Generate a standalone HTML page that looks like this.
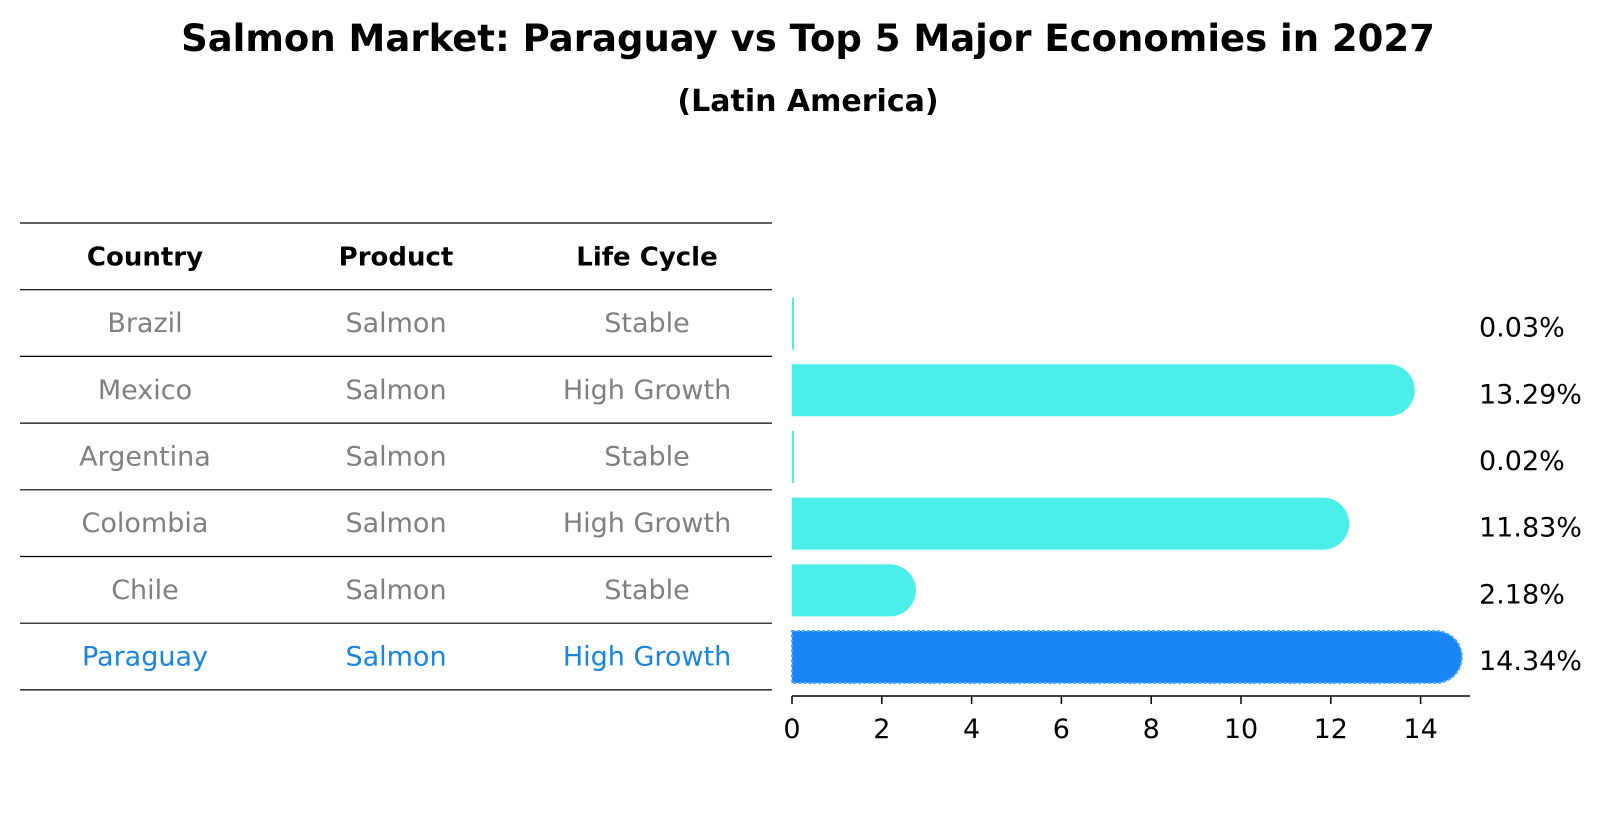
<!DOCTYPE html>
<html><head><meta charset="utf-8"><style>
body{margin:0;background:#fff;}
svg text{font-family:"DejaVu Sans","Liberation Sans",sans-serif;}
</style></head><body>
<svg width="1604" height="823" xmlns="http://www.w3.org/2000/svg">
<text x="808" y="51" text-anchor="middle" font-size="37" font-weight="bold">Salmon Market: Paraguay vs Top 5 Major Economies in 2027</text>
<text x="808" y="111" text-anchor="middle" font-size="30" font-weight="bold">(Latin America)</text>
<g id="table"></g>
<g id="bars"></g>
</svg>
<script>
const countries = ["Brazil","Mexico","Argentina","Colombia","Chile","Paraguay"];
const products = ["Salmon","Salmon","Salmon","Salmon","Salmon","Salmon"];
const lifeCycles = ["Stable","High Growth","Stable","High Growth","Stable","High Growth"];
const values = [0.03,13.29,0.02,11.83,2.18,14.34];
const valueLabels = ["0.03%","13.29%","0.02%","11.83%","2.18%","14.34%"];
const xTicks = [0,2,4,6,8,10,12,14];

const NS="http://www.w3.org/2000/svg";
function mk(tag,attrs,parent){const e=document.createElementNS(NS,tag);for(const k in attrs)e.setAttribute(k,attrs[k]);parent.appendChild(e);return e;}
const table=document.getElementById('table');
const bars=document.getElementById('bars');
const rowTop=223, rowH=66.7, tx0=20, tx1=772, colX=[145,396,647];
const x0=792, scale=44.9;
function xs(v){return x0+v*scale;}
for(let i=0;i<=countries.length+1;i++){
  const y=rowTop+i*rowH;
  const l=mk('line',{x1:tx0,x2:tx1,y1:y,y2:y,stroke:'#000','stroke-width':1.2},table);
  
  
}
const headers=["Country","Product","Life Cycle"];
headers.forEach((h,j)=>{
  const t=mk('text',{x:colX[j],y:rowTop+rowH/2+9,'text-anchor':'middle','font-size':26,'font-weight':'bold'},table);
  t.textContent=h;
  
  
});
countries.forEach((c,i)=>{
  const y=rowTop+(i+1)*rowH+rowH/2+9;
  const col=c==="Paraguay"?'#1a85e0':'#808080';
  [c,products[i],lifeCycles[i]].forEach((v,j)=>{
    const t=mk('text',{x:colX[j],y:y,'text-anchor':'middle','font-size':27,fill:col},table);
    t.textContent=v;
    
    
  });
  const cy=rowTop+(i+1)*rowH+rowH/2+0.5;
  const h=52, r=h/2;
  const xe=xs(values[i]);
  let d;
  if(values[i]<0.2){ d=`M${x0},${cy-h/2}h2v${h}h-2z`; }
  else d=`M${x0},${cy-h/2}H${xe}A${r},${r} 0 0 1 ${xe},${cy+h/2}H${x0}Z`;
  const isP=c==="Paraguay";
  const p=mk('path',{d:d,fill:isP?'#1a85f5':'#4beee8',stroke:isP?'#4aa8ff':'none','stroke-width':isP?2:0,'stroke-dasharray':isP?'3,2':''},bars);
  
  
  const lt=mk('text',{x:1479,y:cy+13,'font-size':27},bars);
  lt.textContent=valueLabels[i];
  
  
});
const ay=696;
const ax=mk('line',{x1:x0,x2:1470,y1:ay,y2:ay,stroke:'#000','stroke-width':1.5},bars);


xTicks.forEach(v=>{
  const tk=mk('line',{x1:xs(v),x2:xs(v),y1:ay,y2:ay+8,stroke:'#000','stroke-width':1.5},bars);
  
  
  const tl=mk('text',{x:xs(v),y:ay+42,'text-anchor':'middle','font-size':27},bars);
  tl.textContent=v;
  
  
});
</script>
</body></html>
